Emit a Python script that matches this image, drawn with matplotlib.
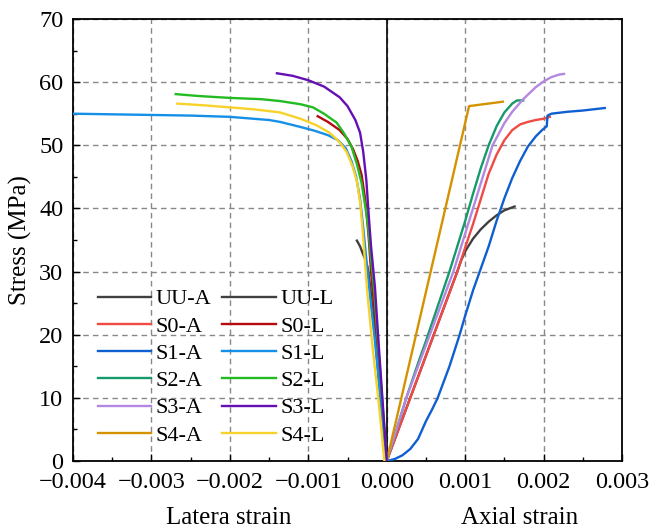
import numpy as np
import matplotlib.pyplot as plt
from matplotlib.ticker import MultipleLocator, FixedFormatter

plt.rcParams['font.family'] = 'Liberation Serif'
plt.rcParams['font.size'] = 17.5

# axial curves (strain, stress MPa)
uu_a_x = [0, 0.0003, 0.0006, 0.0009, 0.00095, 0.001, 0.0011, 0.0012, 0.0013, 0.0014, 0.0015, 0.00163]
uu_a_y = [0, 10, 20, 30, 31.8, 33.2, 35.2, 36.7, 37.9, 38.9, 39.7, 40.3]
s0_a_x = [0, 0.0003, 0.0006, 0.0009, 0.001, 0.0011, 0.0012, 0.0013, 0.0014, 0.0015, 0.0016,
          0.0017, 0.0018, 0.0019, 0.002, 0.00208]
s0_a_y = [0, 10, 20, 30, 33.8, 37.5, 41.5, 45.5, 48.5, 50.8, 52.4,
          53.3, 53.7, 54.0, 54.2, 54.5]
s1_a_x = [0, 0.0001, 0.0002, 0.0003, 0.0004, 0.0005, 0.00058, 0.00065, 0.0008, 0.00093, 0.001,
          0.0011, 0.0012, 0.0013, 0.0014, 0.0015, 0.0016, 0.0017, 0.0018, 0.0019, 0.00198,
          0.00204, 0.00205, 0.0021, 0.0023, 0.0025, 0.00278]
s1_a_y = [0, 0.3, 0.9, 1.9, 3.5, 6.3, 8.2, 10, 15, 20, 23,
          27, 30.5, 34, 38, 41.6, 44.8, 47.5, 49.8, 51.4, 52.4,
          53, 54.7, 55, 55.3, 55.5, 55.9]
s2_a_x = [0, 0.0001, 0.00025, 0.0004, 0.0005, 0.00065, 0.0008, 0.0009, 0.001, 0.0011, 0.0012,
          0.0013, 0.0014, 0.0015, 0.0016, 0.00166, 0.00174]
s2_a_y = [0, 4, 10, 15.5, 19, 24.5, 30, 34, 38, 42.3, 46.4,
          50, 53, 55.2, 56.6, 57.1, 57.1]
s3_a_x = [0, 0.00025, 0.00055, 0.00085, 0.0011, 0.0012, 0.0013, 0.00135, 0.0015, 0.0016, 0.00174,
          0.0019, 0.002, 0.0021, 0.0022, 0.00226]
s3_a_y = [0, 10, 20, 30, 40, 44, 48, 50, 53.5, 55.3, 57.3,
          59.2, 60.1, 60.8, 61.2, 61.3]
s4_a_x = [0, 0.00105, 0.00148]
s4_a_y = [0, 56.2, 56.9]

# lateral curves
uu_l_x = [-0.00038, -0.00034, -0.00031, -0.00027, -0.00024, -0.00021, -0.00015, -0.00008, 0]
uu_l_y = [34.9, 34.0, 33.0, 31.8, 30.5, 27.5, 20, 10, 0]
s0_l_x = [-0.00088, -0.00075, -0.0006, -0.0005, -0.00043, -0.00037, -0.00032, -0.00027, -0.00023,
          -0.0002, -0.00015, -0.0001, 0]
s0_l_y = [54.6, 53.7, 52.4, 51.0, 49.4, 47.5, 45.3, 41.0, 35.5,
          30, 23, 15, 0]
s1_l_x = [-0.004, -0.0035, -0.003, -0.0025, -0.002, -0.0017, -0.0015, -0.00136, -0.0011, -0.00092,
          -0.00075, -0.00062, -0.00052, -0.00045, -0.00039, -0.00034, -0.0003, -0.00026, -0.00022,
          -0.00015, -0.00008, 0]
s1_l_y = [55.0, 54.9, 54.8, 54.7, 54.5, 54.2, 54.0, 53.7, 52.9, 52.3,
          51.6, 50.8, 49.5, 47.5, 45.0, 41.5, 37, 32, 27,
          19, 10, 0]
s2_l_x = [-0.00269, -0.0024, -0.002, -0.0016, -0.00136, -0.0011, -0.00094, -0.0008, -0.00064,
          -0.00055, -0.00045, -0.00038, -0.00032, -0.00027, -0.00024, -0.0002, -0.00016, -0.0001, 0]
s2_l_y = [58.1, 57.8, 57.5, 57.3, 57.0, 56.5, 56.0, 55.0, 53.6,
          52.0, 49.8, 47.0, 44.0, 40.0, 37.5, 32, 27, 17, 0]
s3_l_x = [-0.0014, -0.0012, -0.001, -0.0008, -0.0006, -0.0005, -0.0004, -0.00034, -0.0003,
          -0.00026, -0.00023, -0.0002, -0.00015, -0.0001, -0.00005, 0]
s3_l_y = [61.4, 61.0, 60.3, 59.3, 57.6, 56.2, 54.0, 52.0, 49.0,
          44.5, 39.0, 34.0, 27.5, 18, 9, 0]
s4_l_x = [-0.00267, -0.0023, -0.002, -0.0017, -0.00136, -0.0011, -0.0009, -0.00073, -0.0006,
          -0.00051, -0.00044, -0.00038, -0.00034, -0.00031, -0.00028, -0.00025, -0.00018,
          -0.0001, -0.00003]
s4_l_y = [56.6, 56.3, 56.0, 55.7, 55.2, 54.2, 53.2, 52.0, 50.5,
          48.9, 46.8, 44.3, 41.0, 37.0, 32.0, 27.0, 18.0,
          9.0, 0]

series = [
    ("UU-A", uu_a_x, uu_a_y, "#404040"), ("S0-A", s0_a_x, s0_a_y, "#f04a45"),
    ("S1-A", s1_a_x, s1_a_y, "#0f5fd0"), ("S2-A", s2_a_x, s2_a_y, "#159a6a"),
    ("S3-A", s3_a_x, s3_a_y, "#b487e0"), ("S4-A", s4_a_x, s4_a_y, "#d49200"),
    ("UU-L", uu_l_x, uu_l_y, "#404040"), ("S0-L", s0_l_x, s0_l_y, "#b40a10"),
    ("S1-L", s1_l_x, s1_l_y, "#1590e8"), ("S2-L", s2_l_x, s2_l_y, "#22bb22"),
    ("S3-L", s3_l_x, s3_l_y, "#6410b4"), ("S4-L", s4_l_x, s4_l_y, "#f8d22a"),
]
xticks = [-0.004, -0.003, -0.002, -0.001, 0.0, 0.001, 0.002, 0.003]
xtick_labels = ['\u22120.004', '\u22120.003', '\u22120.002', '\u22120.001',
                '0.000', '0.001', '0.002', '0.003']

fig = plt.figure(figsize=(6.51, 5.30), dpi=100)
ax = fig.add_axes([0.1121, 0.1302, 0.8434, 0.834])

for name, x, y, c in series:
    ax.plot(x, y, color=c, lw=1.7, label=name, zorder=3)

ax.axvline(0, color='black', lw=1.2, zorder=2)

ax.set_xticks(xticks)
ax.xaxis.set_major_formatter(FixedFormatter(xtick_labels))
ax.xaxis.set_minor_locator(MultipleLocator(0.0005))
ax.yaxis.set_major_locator(MultipleLocator(10))
ax.yaxis.set_minor_locator(MultipleLocator(5))
ax.set_xlim(-0.004, 0.003)
ax.set_ylim(0, 70)
ax.tick_params(which='major', direction='in', length=5, width=1, pad=7)
ax.tick_params(axis='x', which='major', pad=8)
ax.tick_params(which='minor', direction='in', length=3, width=1)
ax.grid(True, which='major', color='#888888', ls=(0, (4, 3)), lw=1, zorder=1)
for sp in ax.spines.values():
    sp.set_linewidth(1.3)

ax.set_ylabel('Stress (MPa)', fontsize=18, labelpad=5)

ax.legend(ncol=2, frameon=False, loc='lower left', bbox_to_anchor=(0.045, 0.035),
          fontsize=16, handlelength=2.4, handletextpad=0.2, columnspacing=0.5,
          labelspacing=0.3, borderaxespad=0, borderpad=0)

fig.text(229 / 651, 1 - 518 / 530, 'Latera strain', ha='center', va='center', fontsize=18)
fig.text(520 / 651, 1 - 518 / 530, 'Axial strain', ha='center', va='center', fontsize=18)

fig.savefig('out.png', dpi=100)
